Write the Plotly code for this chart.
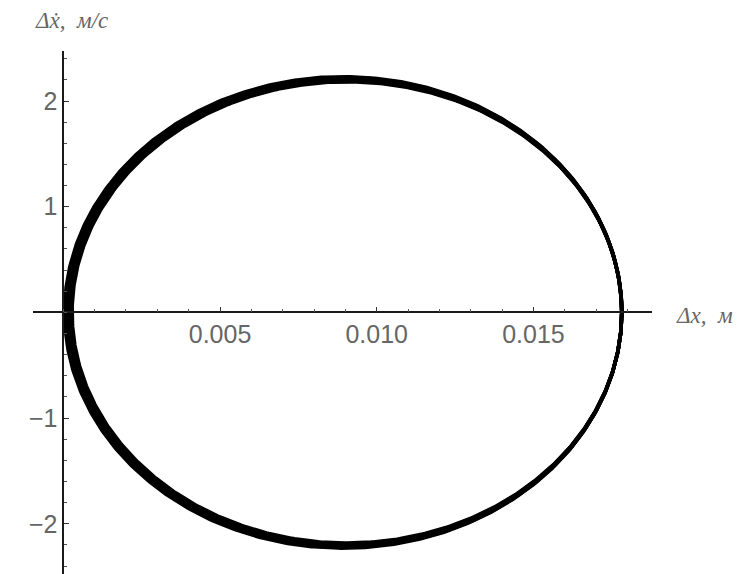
import numpy as np
import plotly.graph_objects as go

# Phase trajectory: displacement Δx (m) vs velocity Δẋ (m/s).
# Each loop is one oscillation cycle, described by its turning points
# and its peak velocity.
left_turn_m = [0.00004, 0.00008, 0.00012, 0.00016, 0.00020, 0.00024, 0.00028]
right_turn_m = [0.01782, 0.01782, 0.01782, 0.01782, 0.01782, 0.01782, 0.01782]
peak_velocity = [2.230, 2.222, 2.214, 2.206, 2.198, 2.190, 2.182]

x_tick_vals = [0.005, 0.010, 0.015]
x_tick_text = ["0.005", "0.010", "0.015"]
y_tick_vals = [-2, -1, 1, 2]
y_tick_text = ["\u22122", "\u22121", "1", "2"]

x_range = [-0.000967, 0.018784]
y_range = [-2.475, 2.473]

phase = np.linspace(0, 2 * np.pi, 721)
xs, vs = [], []
for xl, xr, vm in zip(left_turn_m, right_turn_m, peak_velocity):
    centre = (xl + xr) / 2
    half = (xr - xl) / 2
    xs.extend(list(centre + half * np.cos(phase)) + [None])
    vs.extend(list(-vm * np.sin(phase)) + [None])

fig = go.Figure()
fig.add_trace(go.Scatter(
    x=xs, y=vs, mode="lines",
    line=dict(color="black", width=3.6),
    hoverinfo="skip", showlegend=False,
))

tick_font = dict(family="Liberation Sans, Arial, sans-serif", size=25, color="#666666")
label_font = dict(family="Liberation Serif, Times New Roman, serif", size=23, color="#666666")

# Axes cross at the origin
y_cross = (0 - y_range[0]) / (y_range[1] - y_range[0])
x_cross = (0 - x_range[0]) / (x_range[1] - x_range[0])

fig.update_layout(
    width=753, height=574,
    margin=dict(l=33, r=101, t=51, b=0),
    paper_bgcolor="white", plot_bgcolor="white",
    xaxis=dict(
        range=x_range, domain=[0, 1], anchor="free", position=y_cross,
        showgrid=False, zeroline=False,
        showline=True, linecolor="#1a1a1a", linewidth=1.6,
        tickmode="array", tickvals=x_tick_vals, ticktext=x_tick_text,
        ticks="inside", ticklen=5, tickwidth=1, tickcolor="#333333",
        tickfont=tick_font,
        minor=dict(ticks="inside", dtick=0.001, tick0=0, ticklen=3,
                   tickwidth=1, tickcolor="#555555", showgrid=False),
    ),
    yaxis=dict(
        range=y_range, domain=[0, 1], anchor="free", position=x_cross,
        showgrid=False, zeroline=False,
        showline=True, linecolor="#1a1a1a", linewidth=1.6,
        tickmode="array", tickvals=y_tick_vals, ticktext=y_tick_text,
        ticks="inside", ticklen=5, tickwidth=1, tickcolor="#333333",
        tickfont=tick_font,
        minor=dict(ticks="inside", dtick=0.2, tick0=0, ticklen=3,
                   tickwidth=1, tickcolor="#555555", showgrid=False),
    ),
    annotations=[
        dict(text="<i>\u0394x\u0307,\u00a0\u00a0\u043c/\u0441</i>", xref="paper", yref="paper",
             x=0.0, y=1.058, xanchor="left", yanchor="middle",
             showarrow=False, font=label_font),
        dict(text="<i>\u0394x,\u00a0\u00a0\u043c</i>", xref="paper", yref="paper",
             x=1.035, y=0.495, xanchor="left", yanchor="middle",
             showarrow=False, font=label_font),
    ],
)

fig.write_html("out.html")
